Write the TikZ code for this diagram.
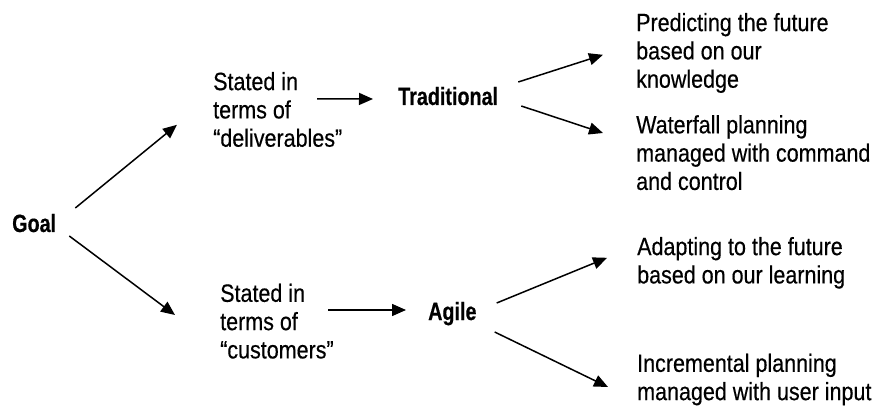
\documentclass[tikz,border=0pt]{standalone}
\usepackage{fontspec}
\setmainfont{Liberation Sans}[FakeStretch=0.86,FakeBold=0.4,BoldFeatures={FakeStretch=0.79,FakeBold=0.4}]
\usetikzlibrary{positioning,calc,arrows.meta}

\begin{document}
\begin{tikzpicture}[x=1pt,y=-1pt,
  every node/.style={inner sep=0pt,font=\fontsize{25}{28.3}\selectfont},
  txt/.style={align=left,anchor=north west},
  key/.style={anchor=base west,font=\fontsize{25}{28.3}\selectfont\bfseries},
  arr/.style={-{Triangle[length=14pt,width=12pt]},line width=1.5pt}]
  \useasboundingbox (0,0) rectangle (873,406);

  \node[key] (Goal)   at (12,232)    {Goal};
  \node[txt] (Deliv)  at (213,71.8)  {Stated in\\terms of\\“deliverables”};
  \node[key] (Trad)   at (398,105)   {Traditional};
  \node[txt] (Predict) at (636,12.8) {Predicting the future\\based on our\\knowledge};
  \node[txt] (Water)  at (636,115)   {Waterfall planning\\managed with command\\and control};
  \node[txt] (Custs)  at (220,283.5) {Stated in\\terms of\\“customers”};
  \node[key] (Agile)  at (428,320)   {Agile};
  \node[txt] (Adapt)  at (637,236.8) {Adapting to the future\\based on our learning};
  \node[txt] (Incr)   at (637,353.5) {Incremental planning\\managed with user input};

  \path[arr]
    ($(Goal.base east)+(19,-24)$)   edge ($(Deliv.north west)+(-36,53)$)
    ($(Goal.base east)+(13,4)$)     edge ($(Custs.north west)+(-45,31.5)$)
    ($(Deliv.north west)+(104,27)$) edge ($(Trad.base west)+(-25,-6)$)
    ($(Trad.base east)+(20,-23)$)   edge ($(Predict.north west)+(-33,42)$)
    ($(Trad.base east)+(23,1)$)     edge ($(Water.north west)+(-33,18)$)
    ($(Custs.north west)+(108,26.5)$) edge ($(Agile.base west)+(-22,-10)$)
    ($(Agile.base east)+(20,-17)$)  edge ($(Adapt.north west)+(-30,21)$)
    ($(Agile.base east)+(18,12)$)   edge ($(Incr.north west)+(-29,33.5)$);
\end{tikzpicture}
\end{document}
